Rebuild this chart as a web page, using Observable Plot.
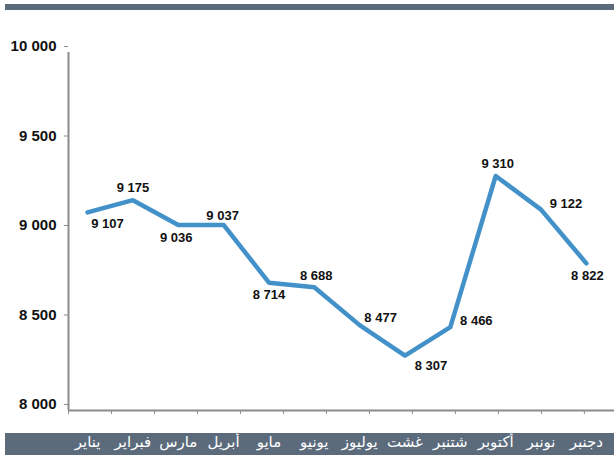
<!DOCTYPE html>
<html><head><meta charset="utf-8">
<script src="https://cdn.jsdelivr.net/npm/d3@7"></script>
<script src="https://cdn.jsdelivr.net/npm/@observablehq/plot@0.6"></script>
<style>
body{margin:0;background:#fff;}
#wrap{position:relative;width:614px;height:455px;overflow:hidden;}
.bar{position:absolute;left:5px;right:0;background:#5b6b7c;}
#top{top:4px;height:6px;}
#bottom{top:433px;height:22px;}
#chart{position:absolute;left:0;top:0;}
</style></head><body>
<div id="wrap"><div class="bar" id="top"></div><div class="bar" id="bottom"></div><div id="chart"></div></div>
<script>
// Data
const months = ["يناير","فبراير","مارس","أبريل","مايو","يونيو","يوليوز","غشت","شتنبر","أكتوبر","نونبر","دجنبر"];
const values = [9107, 9175, 9036, 9037, 8714, 8688, 8477, 8307, 8466, 9310, 9122, 8822];
const yTicks = [8000, 8500, 9000, 9500, 10000];

// Label placement (styling)
const labelDx = [20, 0, -2, -1, 0, 2, 21, 26, 26, 2, 25, 1];
const labelDy = [11, -12, 13, -9, 12, -12, -7, 10, -6, -12, -6, 12];

const data = months.map((m, i) => ({i, month: m, v: values[i]}));
const fmt = d3.formatLocale({decimal: ",", thousands: " ", grouping: [3]}).format(",");
const xDomain = [-0.42, 11.62];
const yDomain = [yTicks[0], yTicks[yTicks.length - 1]];
const axisGray = "#8c8c8c";

const labelMarks = data.map((d, k) => Plot.text([d], {
  x: "i", y: "v", text: e => fmt(e.v),
  dx: labelDx[k], dy: labelDy[k],
  fontSize: 13, fontWeight: "bold", fill: "#111"
}));

const chart = Plot.plot({
  width: 614,
  height: 455,
  marginLeft: 68,
  marginRight: 0,
  marginTop: 52,
  marginBottom: 45,
  style: {background: "transparent", fontFamily: "'Liberation Sans', Arial, sans-serif", overflow: "visible"},
  x: {type: "linear", domain: xDomain, label: null},
  y: {domain: yDomain, label: null},
  marks: [
    Plot.axisY(yTicks, {tickSize: 4, tickPadding: 8, dy: -6, stroke: axisGray, fill: "#111", label: null,
      fontSize: 15, fontWeight: "bold", tickFormat: fmt}),
    Plot.axisX(d3.range(13).map(k => xDomain[0] + k * 43 / 45.36), {tickSize: 4, stroke: axisGray, label: null, tickFormat: () => ""}),
    Plot.axisX(d3.range(months.length), {tickSize: 0, tickPadding: 26, fill: "white", label: null,
      fontSize: 15, fontFamily: "'DejaVu Sans', sans-serif", tickFormat: i => months[i]}),
    Plot.ruleX([xDomain[0]], {stroke: axisGray, strokeWidth: 2}),
    Plot.ruleY([yDomain[0]], {stroke: axisGray, strokeWidth: 2}),
    Plot.line(data, {x: "i", y: "v", stroke: "#4291c8", strokeWidth: 4.5, strokeLinecap: "round"}),
    ...labelMarks
  ]
});
document.getElementById("chart").appendChild(chart);
</script>
</body></html>
